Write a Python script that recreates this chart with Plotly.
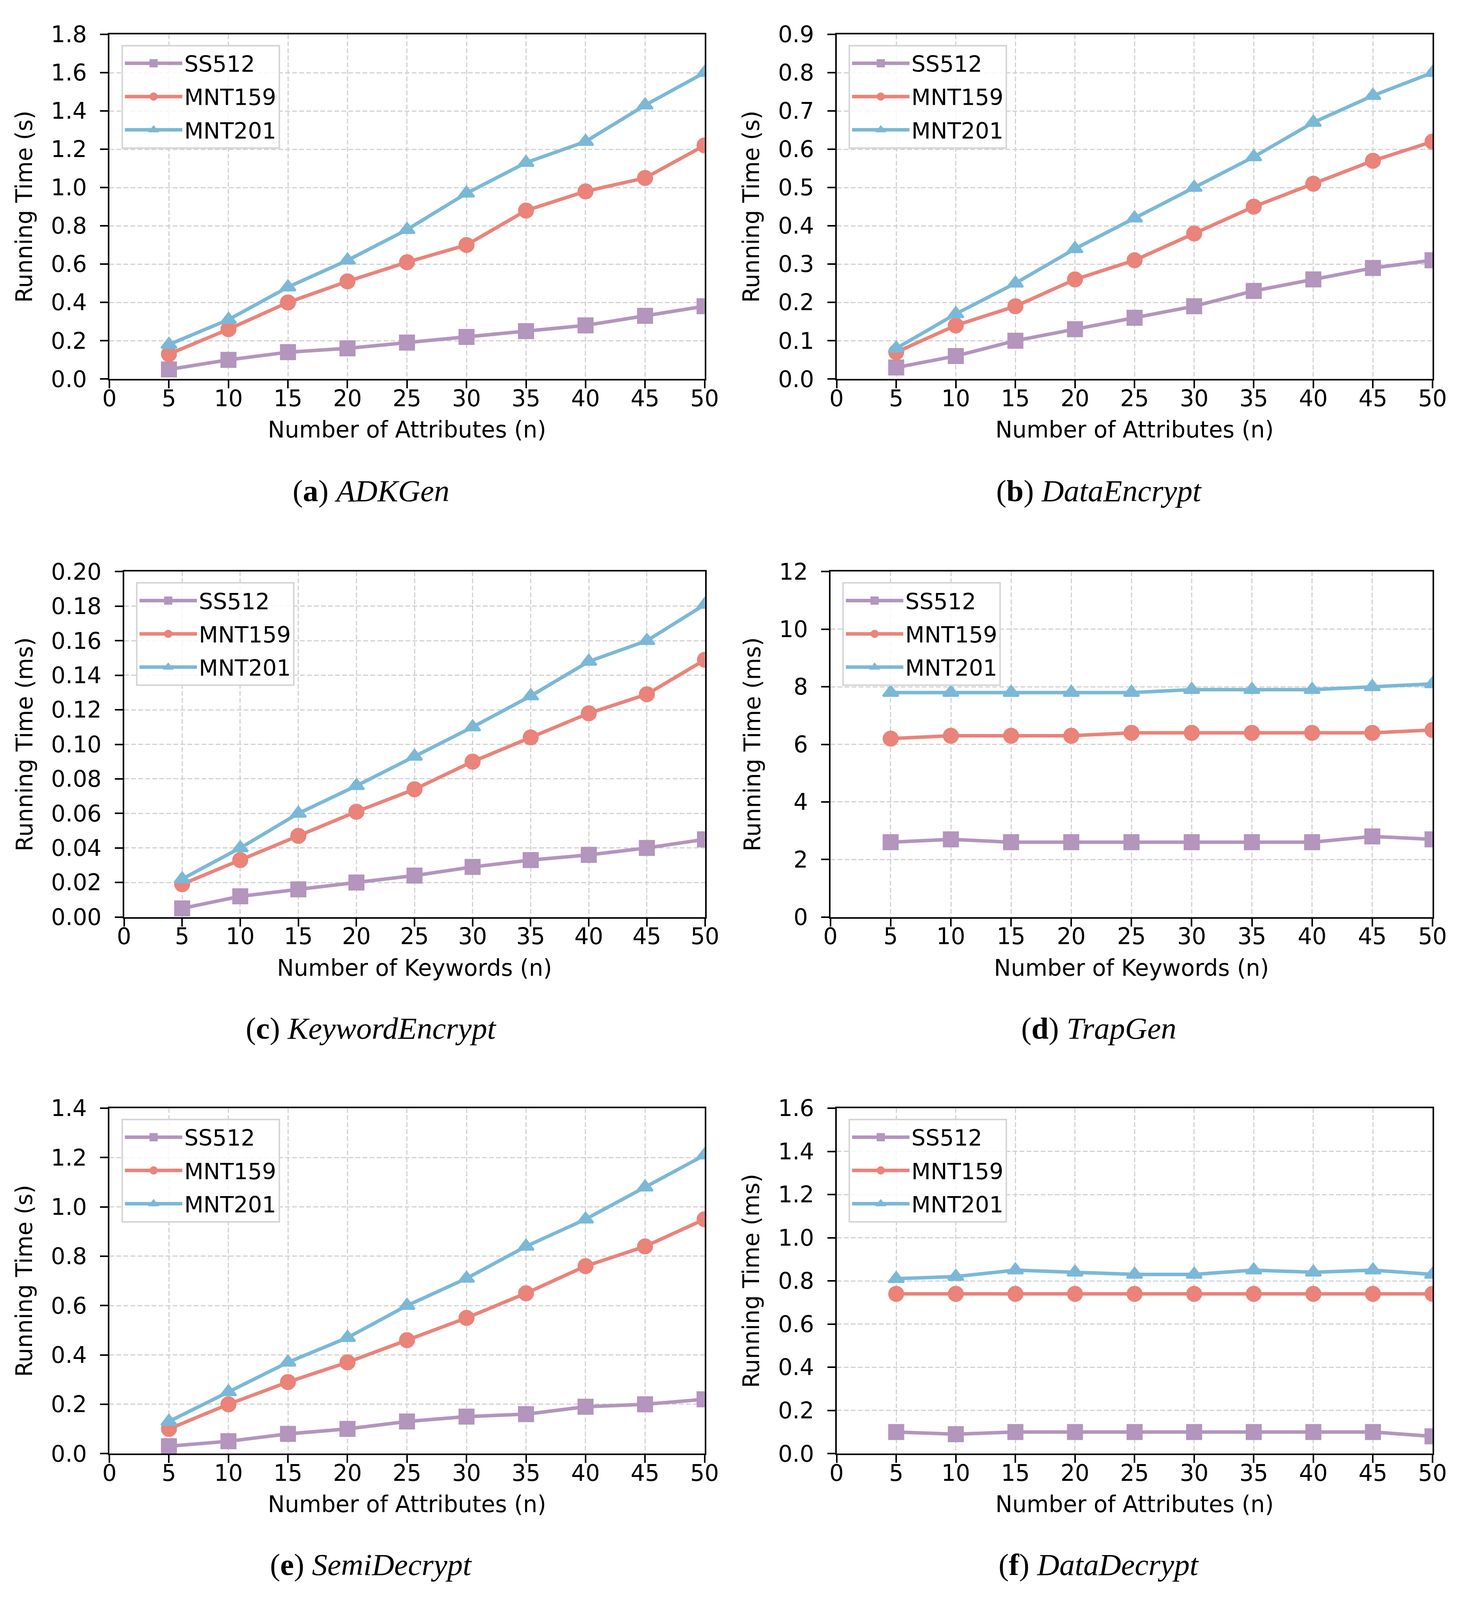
import plotly.graph_objects as go

# x positions shared by every panel
x_values = [5, 10, 15, 20, 25, 30, 35, 40, 45, 50]
x_ticks = [0, 5, 10, 15, 20, 25, 30, 35, 40, 45, 50]
series_names = ["SS512", "MNT159", "MNT201"]

# (a) ADKGen, seconds
adkgen_ss512 = [0.05, 0.10, 0.14, 0.16, 0.19, 0.22, 0.25, 0.28, 0.33, 0.38]
adkgen_mnt159 = [0.13, 0.26, 0.40, 0.51, 0.61, 0.70, 0.88, 0.98, 1.05, 1.22]
adkgen_mnt201 = [0.18, 0.31, 0.48, 0.62, 0.78, 0.97, 1.13, 1.24, 1.43, 1.60]

# (b) DataEncrypt, seconds
dataenc_ss512 = [0.03, 0.06, 0.10, 0.13, 0.16, 0.19, 0.23, 0.26, 0.29, 0.31]
dataenc_mnt159 = [0.07, 0.14, 0.19, 0.26, 0.31, 0.38, 0.45, 0.51, 0.57, 0.62]
dataenc_mnt201 = [0.08, 0.17, 0.25, 0.34, 0.42, 0.50, 0.58, 0.67, 0.74, 0.80]

# (c) KeywordEncrypt, ms
kwenc_ss512 = [0.005, 0.012, 0.016, 0.020, 0.024, 0.029, 0.033, 0.036, 0.040, 0.045]
kwenc_mnt159 = [0.019, 0.033, 0.047, 0.061, 0.074, 0.090, 0.104, 0.118, 0.129, 0.149]
kwenc_mnt201 = [0.022, 0.040, 0.060, 0.076, 0.093, 0.110, 0.128, 0.148, 0.160, 0.181]

# (d) TrapGen, ms
trap_ss512 = [2.6, 2.7, 2.6, 2.6, 2.6, 2.6, 2.6, 2.6, 2.8, 2.7]
trap_mnt159 = [6.2, 6.3, 6.3, 6.3, 6.4, 6.4, 6.4, 6.4, 6.4, 6.5]
trap_mnt201 = [7.8, 7.8, 7.8, 7.8, 7.8, 7.9, 7.9, 7.9, 8.0, 8.1]

# (e) SemiDecrypt, seconds
semidec_ss512 = [0.03, 0.05, 0.08, 0.10, 0.13, 0.15, 0.16, 0.19, 0.20, 0.22]
semidec_mnt159 = [0.10, 0.20, 0.29, 0.37, 0.46, 0.55, 0.65, 0.76, 0.84, 0.95]
semidec_mnt201 = [0.13, 0.25, 0.37, 0.47, 0.60, 0.71, 0.84, 0.95, 1.08, 1.21]

# (f) DataDecrypt, ms
datadec_ss512 = [0.10, 0.09, 0.10, 0.10, 0.10, 0.10, 0.10, 0.10, 0.10, 0.08]
datadec_mnt159 = [0.74, 0.74, 0.74, 0.74, 0.74, 0.74, 0.74, 0.74, 0.74, 0.74]
datadec_mnt201 = [0.81, 0.82, 0.85, 0.84, 0.83, 0.83, 0.85, 0.84, 0.85, 0.83]

W, H_REF = 3768, 4354
H = 4120          # the visible page is a bit shorter than the window
SY = H / H_REF    # so squeeze the reference layout vertically

colors = ["#B395BD", "#EA8379", "#7BB8D7"]
symbols = ["square", "circle", "triangle-up"]
msizes = [36, 36, 34]   # + 5px outline in the same colour (legend caps size at 16)

# letter, caption, x title, y title, y max, y step, tick format, series
panels = [
    ("a", "ADKGen", "Number of Attributes (n)", "Running Time (s)", 1.8, 0.2, ".1f",
     [adkgen_ss512, adkgen_mnt159, adkgen_mnt201]),
    ("b", "DataEncrypt", "Number of Attributes (n)", "Running Time (s)", 0.9, 0.1, ".1f",
     [dataenc_ss512, dataenc_mnt159, dataenc_mnt201]),
    ("c", "KeywordEncrypt", "Number of Keywords (n)", "Running Time (ms)", 0.2, 0.02, ".2f",
     [kwenc_ss512, kwenc_mnt159, kwenc_mnt201]),
    ("d", "TrapGen", "Number of Keywords (n)", "Running Time (ms)", 12, 2, "d",
     [trap_ss512, trap_mnt159, trap_mnt201]),
    ("e", "SemiDecrypt", "Number of Attributes (n)", "Running Time (s)", 1.4, 0.2, ".1f",
     [semidec_ss512, semidec_mnt159, semidec_mnt201]),
    ("f", "DataDecrypt", "Number of Attributes (n)", "Running Time (ms)", 1.6, 0.2, ".1f",
     [datadec_ss512, datadec_mnt159, datadec_mnt201]),
]

# plot boxes in reference pixels (left, right, top, bottom)
boxes = [
    (266, 1812, 58, 1006), (2155, 3703, 58, 1006),
    (304, 1813, 1536, 2486), (2139, 3703, 1536, 2486),
    (266, 1812, 3012, 3962), (2155, 3703, 3012, 3962),
]
caption_x = [946, 2836]
caption_y = [1314, 2792, 4268]

tick_font = dict(family="DejaVu Sans", size=58, color="black")

fig = go.Figure()
layout = dict(
    width=W, height=H,
    margin=dict(l=0, r=0, t=0, b=0),
    paper_bgcolor="white", plot_bgcolor="white",
    showlegend=True,
    annotations=[],
)

for i, (letter, cap, xtitle, ytitle, ymax, ystep, fmt, series) in enumerate(panels):
    n = i + 1
    sfx = "" if n == 1 else str(n)
    l, r, t, b = boxes[i]
    t, b = t * SY, b * SY
    leg = "legend" + sfx

    for k, vals in enumerate(series):
        fig.add_trace(go.Scatter(
            x=x_values, y=vals, name=series_names[k],
            mode="lines+markers",
            line=dict(color=colors[k], width=9),
            marker=dict(symbol=symbols[k], size=msizes[k], color=colors[k],
                        line=dict(color=colors[k], width=5)),
            xaxis="x" + sfx, yaxis="y" + sfx,
            legend=leg, legendgroup=f"{letter}{k}",
        ))

    axis_common = dict(
        showline=True, linecolor="black", linewidth=4, mirror=True,
        ticks="outside", ticklen=20, tickwidth=4, tickcolor="black",
        tickfont=tick_font,
        showgrid=True, gridcolor="#d2d2d2", gridwidth=2.5, griddash="12px,6px",
        zeroline=False,
    )
    layout["xaxis" + sfx] = dict(
        axis_common,
        domain=[l / W, r / W], anchor="y" + sfx,
        range=[0, 50], tickvals=x_ticks, ticklabelstandoff=-24,
        title=dict(text=xtitle, font=tick_font, standoff=28),
    )
    layout["yaxis" + sfx] = dict(
        axis_common,
        domain=[1 - b / H, 1 - t / H], anchor="x" + sfx,
        range=[0, ymax], dtick=ystep, tick0=0, tickformat=fmt,
        ticklabelstandoff=22,
        title=dict(text=ytitle, font=tick_font, standoff=30),
    )
    layout[leg] = dict(
        x=(l + 31) / W, y=1 - (t + 27) / H, xanchor="left", yanchor="top",
        bgcolor="rgba(255,255,255,0.85)", bordercolor="#d6d6d6", borderwidth=4,
        font=dict(family="DejaVu Sans", size=57, color="black"),
        itemwidth=147, tracegroupgap=8,
    )
    layout["annotations"].append(dict(
        xref="paper", yref="paper",
        x=caption_x[i % 2] / W, y=1 - caption_y[i // 2] * SY / H,
        xanchor="center", yanchor="middle", showarrow=False,
        text=f"(<b>{letter}</b>) <i>{cap}</i>",
        font=dict(family="Liberation Serif", size=79, color="black"),
    ))

fig.update_layout(layout)
fig.write_html("out.html", config={"displayModeBar": False},
               post_script="document.body.style.margin='0';")
